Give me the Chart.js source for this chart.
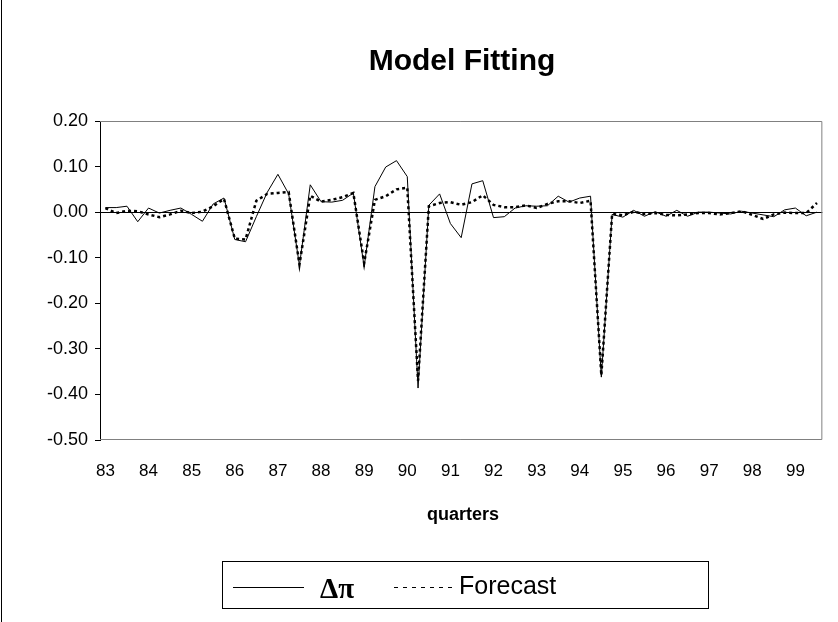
<!DOCTYPE html><html lang="en"><meta charset="utf-8">
<title>Model Fitting</title>
<script src="https://cdn.jsdelivr.net/npm/chart.js@4.4.1"></script>

<style>
*{box-sizing:border-box}
body{margin:0;background:#fff;font-family:"Liberation Sans",Arial,sans-serif;color:#000}
#wrap{position:relative;width:838px;height:622px;overflow:hidden}
#edge{position:absolute;left:1px;top:0;width:1px;height:622px;background:#000}
#title{position:absolute;left:462px;top:45px;transform:translateX(-50%);font-size:30px;font-weight:bold;line-height:1;white-space:nowrap}
#xname{position:absolute;left:463px;top:505px;transform:translateX(-50%);font-size:18px;font-weight:bold;line-height:1}
#legend{position:absolute;left:222px;top:561px;width:487px;height:48px;border:1px solid #000}
#legend .ln{position:absolute;top:25px;height:1px}
#legend .tx{position:absolute;top:0;line-height:46px;white-space:nowrap}
</style>

<body>
<div id="wrap">
  <canvas id="chart" width="838" height="622"></canvas>
  <div id="edge"></div>
  <div id="title">Model Fitting</div>
  <div id="xname">quarters</div>
  <div id="legend">
    <div class="ln" style="left:10px;width:71px;background:#000"></div>
    <div class="tx" style="left:97px;font:bold 29px 'Liberation Serif','DejaVu Serif',serif;line-height:52px">&Delta;&pi;</div>
    <div class="ln" style="left:171px;width:63px;background:repeating-linear-gradient(90deg,#000 0 4px,transparent 4px 9px)"></div>
    <div class="tx" style="left:236px;font-size:25px">Forecast</div>
  </div>
</div>

<script>
// years on the axis, one label per first quarter
const years = ['83','84','85','86','87','88','89','90','91','92','93','94','95','96','97','98','99'];
const nQuarters = 67;   // 83Q1 .. 99Q3

// actual change in inflation (solid)
const dpi = [
  0.010, 0.010, 0.013,-0.021, 0.009,-0.002, 0.004, 0.009,-0.005,-0.020,
  0.018, 0.031,-0.060,-0.065,-0.010, 0.043, 0.083, 0.040,-0.117, 0.060,
  0.023, 0.022, 0.026, 0.042,-0.120, 0.056, 0.099, 0.113, 0.078,-0.386,
  0.015, 0.040,-0.025,-0.056, 0.062, 0.069,-0.012,-0.010, 0.009, 0.014,
  0.013, 0.014, 0.035, 0.022, 0.031, 0.035,-0.362,-0.005,-0.011, 0.004,
 -0.009, 0.001,-0.009, 0.004,-0.009, 0.000, 0.000,-0.002,-0.004, 0.002,
 -0.002,-0.006,-0.010, 0.005, 0.009,-0.008, 0.000
];

// model forecast (dotted)
const forecast = [
  0.009,-0.002, 0.003, 0.002,-0.005,-0.011,-0.005, 0.003,-0.002, 0.001,
  0.013, 0.029,-0.058,-0.060, 0.025, 0.040, 0.042, 0.044,-0.115, 0.036,
  0.023, 0.027, 0.033, 0.042,-0.112, 0.027, 0.035, 0.050, 0.054,-0.370,
  0.013, 0.020, 0.022, 0.016, 0.022, 0.037, 0.016, 0.011, 0.011, 0.015,
  0.009, 0.018, 0.024, 0.024, 0.020, 0.025,-0.358,-0.004,-0.007, 0.001,
 -0.004,-0.002,-0.006,-0.007,-0.005,-0.002,-0.002,-0.005,-0.002, 0.002,
 -0.006,-0.015,-0.005,-0.001,-0.002,-0.002, 0.020
];

const quarters = [];
years.forEach(y => { for(let q=1;q<=4;q++) quarters.push(y+'Q'+q); });
quarters.length = nQuarters;

// gray frame on top/right/bottom of the plot, like the spreadsheet
const frame = {
  id:'frame',
  beforeDatasetsDraw(c){
    const {left,right,top,bottom} = c.chartArea, g = c.ctx;
    g.save();
    g.strokeStyle = '#808080'; g.lineWidth = 1;
    g.beginPath();
    g.moveTo(left, top+.5); g.lineTo(right-.5, top+.5);
    g.lineTo(right-.5, bottom-.5); g.lineTo(left, bottom-.5);
    g.stroke();
    g.restore();
  }
};

Chart.defaults.font.family = '"Liberation Sans", Arial, sans-serif';
Chart.defaults.color = '#000';

new Chart(document.getElementById('chart'), {
  type:'line',
  data:{
    labels:quarters,
    datasets:[
      {label:'\u0394\u03c0', data:dpi, borderColor:'#000', borderWidth:1, pointRadius:0, tension:0},
      {label:'Forecast', data:forecast, borderColor:'#000', borderWidth:2.5, borderDash:[3,3], pointRadius:0, tension:0}
    ]
  },
  options:{
    animation:false,
    responsive:false,
    layout:{padding:{top:121,right:5,left:0,bottom:0}},
    plugins:{legend:{display:false}, title:{display:false}, tooltip:{enabled:false}},
    scales:{
      x:{
        offset:true,
        grid:{display:false, drawTicks:false},
        border:{display:false},
        ticks:{
          autoSkip:false, maxRotation:0, padding:21, font:{size:17},
          callback:(v,i) => quarters[i].endsWith('Q1') ? quarters[i].slice(0,2) : ''
        },
        afterFit:s => { s.height = 182; }
      },
      y:{
        min:-0.5, max:0.2,
        grid:{
          color:c => Math.abs(c.tick.value) < 1e-9 ? '#000' : 'rgba(0,0,0,0)',
          tickColor:'#000', tickLength:5
        },
        border:{display:true, color:'#000'},
        ticks:{
          stepSize:0.1, padding:7, font:{size:18},
          callback:v => Math.abs(v) < 1e-9 ? '0.00' : v.toFixed(2)
        },
        afterFit:s => { s.width = 100; }
      }
    }
  },
  plugins:[frame]
});
</script>
</body></html>
